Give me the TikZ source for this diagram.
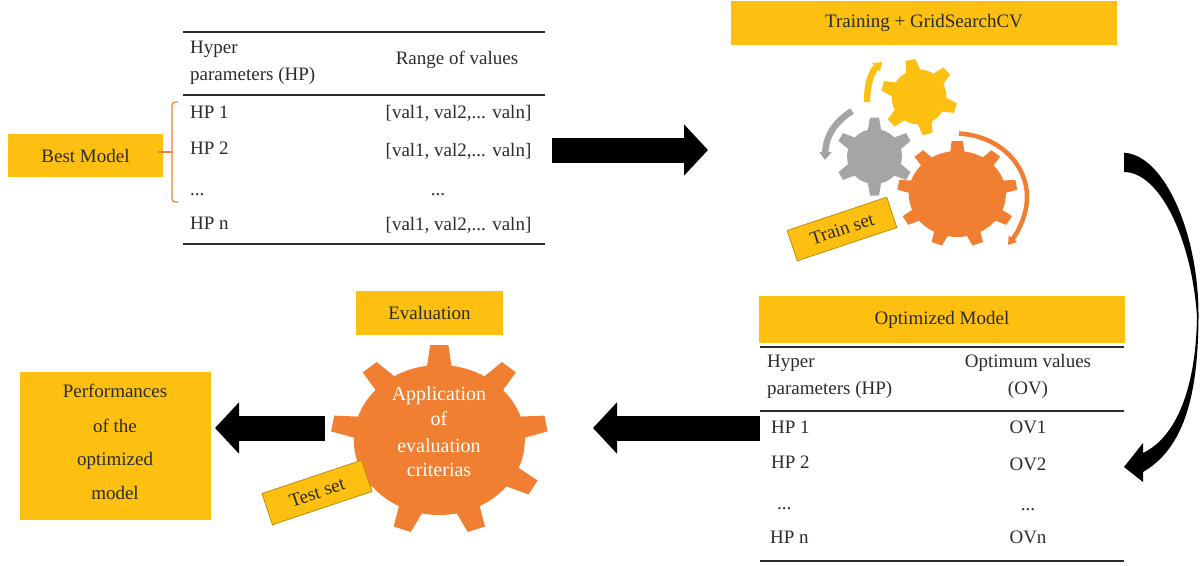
\documentclass[tikz,border=0pt]{standalone}
\usepackage{fontspec}
\setmainfont{Liberation Serif}
\usetikzlibrary{arrows.meta}
\definecolor{goldc}{HTML}{FDC010}
\definecolor{orangec}{HTML}{F07F32}
\definecolor{grayc}{HTML}{A5A5A5}
\definecolor{inkc}{HTML}{2B2B2B}
\tikzset{
  txt/.style={font=\fontsize{19}{22}\selectfont,text=inkc,inner sep=0pt,anchor=mid},
  txtl/.style={txt,anchor=mid west},
  goldbox/.style={fill=goldc,draw=none,inner sep=0pt,txt,anchor=center},
  slip/.style={fill=goldc,draw=goldc!70!black,line width=0.7pt,inner sep=0pt,txt,anchor=center,minimum width=105pt,minimum height=32pt,rotate=18.5},
  rule/.style={draw=inkc,line width=1.3pt},
  whitetxt/.style={font=\fontsize{20}{24}\selectfont,text=white,inner sep=0pt,anchor=mid},
  block/.style={line width=25pt,black,-{Triangle[length=24pt,width=50pt]}},
}
% #1 cx, #2 cy, #3 xscale, #4 body r, #5 tip R, #6 teeth, #7 start angle, #8 base half width, #9 tip half width
\newcommand{\gearshape}[9]{%
  \pgfmathsetmacro{\gstep}{360/#6}%
  \begin{scope}[shift={(#1,#2)},xscale=#3]
    \fill (0,0) circle[radius=#4];
    \foreach \k in {1,...,#6}{
      \pgfmathsetmacro{\ga}{#7+(\k-1)*\gstep}
      \begin{scope}[rotate=\ga]
        \fill (#4-3,#8) -- (#5,#9) -- (#5,-#9) -- (#4-3,-#8) -- cycle;
      \end{scope}
    }
  \end{scope}}
\begin{document}
\begin{tikzpicture}[x=1pt,y=-1pt]
\useasboundingbox (0,0) rectangle (1204,565);
% table 1
\coordinate (t1a) at (183,32); \coordinate (t1b) at (545,32);
\coordinate (t1c) at (183,95); \coordinate (t1d) at (545,95);
\coordinate (t1e) at (183,244); \coordinate (t1f) at (545,244);
\draw[rule] (t1a) -- (t1b);
\draw[rule] (t1c) -- (t1d);
\draw[rule] (t1e) -- (t1f);
\node[txtl] (h1a) at (190,51) {Hyper};
\node[txtl] (h1b) at (190,78) {parameters (HP)};
\node[txt] (r1) at (457,62) {Range of values};
\node[txtl] (hp11) at (190,116) {HP 1};
\node[txtl] (hp12) at (190,152) {HP 2};
\node[txtl] (hp13) at (190,193) {...};
\node[txtl] (hp1n) at (190,227) {HP n};
\node[txt] (v11) at (458.5,116) {[val1, val2,... valn]};
\node[txt] (v12) at (458.5,154) {[val1, val2,... valn]};
\node[txt] (v13) at (438,193) {...};
\node[txt] (v1n) at (458.5,228) {[val1, val2,... valn]};
% best model
\node[goldbox,minimum width=155pt,minimum height=43pt] (best) at (85.5,155.5) {Best Model};
\coordinate (brt) at (178,102); \coordinate (brb) at (178,202); \coordinate (brm) at (172,152); \coordinate (brl) at (158,152);
\draw[orangec,line width=1.2pt,rounded corners=3pt] (brt) -- (172,102) -- (172,202) -- (brb);
\draw[orangec,line width=1.2pt] (brl) -- (brm);
% training
\node[goldbox,minimum width=386pt,minimum height=44pt] (train) at (924,23) {Training + GridSearchCV};
\begin{scope}[goldc] \gearshape{919}{97}{1}{27.5}{38}{6}{-17}{7.5}{5} \end{scope}
\begin{scope}[grayc] \gearshape{874.5}{156.5}{1}{27.5}{39}{6}{90}{7}{4.5} \end{scope}
\begin{scope}[orangec] \gearshape{957.3}{194}{1.13}{43}{53}{9}{90}{6.5}{5} \end{scope}
\coordinate (ya) at (867,102); \coordinate (yb) at (882,62);
\coordinate (ga) at (852,111); \coordinate (gb) at (825,160);
\coordinate (oa) at (959,133.5); \coordinate (ob) at (1008,245);
\draw[goldc,line width=6.5pt,-{Triangle[length=8pt,width=11pt]}] (ya) .. controls (867,85) and (871,72) .. (yb);
\draw[grayc,line width=6.5pt,-{Triangle[length=8pt,width=12pt]}] (ga) .. controls (835,122) and (826,135) .. (gb);
\draw[orangec,line width=4.5pt,-{Triangle[length=8pt,width=10pt]}] (oa) .. controls (1000,136) and (1027,165) .. (1027,197) .. controls (1027,215) and (1018,232) .. (ob);
\node[slip] (trainset) at (842,229) {Train set};
% arrows
\coordinate (a1s) at (552,150); \coordinate (a1e) at (708,150);
\draw[block] (a1s) -- (a1e);
\coordinate (a2s) at (325,428); \coordinate (a2e) at (215,428);
\draw[block] (a2s) -- (a2e);
\coordinate (a3s) at (760,428); \coordinate (a3e) at (593,428);
\draw[block] (a3s) -- (a3e);
\coordinate (c1) at (1124,152.7); \coordinate (c2) at (1124,172);
\coordinate (ctip) at (1124,467);
\fill[black] (c1) .. controls (1165,155) and (1199,235) .. (1198.5,317)
  .. controls (1198,380) and (1190,445) .. (1143,472) -- (1143,482) -- (ctip) -- (1143,443) -- (1143,453)
  .. controls (1180,435) and (1196,380) .. (1197,317)
  .. controls (1192,240) and (1160,172) .. (c2) -- cycle;
% evaluation
\node[goldbox,minimum width=147pt,minimum height=44pt] (eval) at (429.5,313) {Evaluation};
\begin{scope}[orangec] \gearshape{439.3}{440}{1.14}{75}{95}{9}{90}{11}{8} \end{scope}
\node[whitetxt] (ap1) at (439,398) {Application};
\node[whitetxt] (ap2) at (439,423) {of};
\node[whitetxt] (ap3) at (439,450) {evaluation};
\node[whitetxt] (ap4) at (439,474) {criterias};
\node[slip,minimum height=33pt] (testset) at (317,492.5) {Test set};
% performances
\node[goldbox,minimum width=191pt,minimum height=148pt] (perf) at (115.5,446) {};
\node[txt] (p1) at (115,395) {Performances};
\node[txt] (p2) at (115,430) {of the};
\node[txt] (p3) at (115,463) {optimized};
\node[txt] (p4) at (115,497) {model};
% table 2
\node[goldbox,minimum width=366pt,minimum height=47pt] (opt) at (942,319.5) {Optimized Model};
\coordinate (t2a) at (760,347); \coordinate (t2b) at (1124,347);
\coordinate (t2c) at (760,411); \coordinate (t2d) at (1124,411);
\coordinate (t2e) at (760,561); \coordinate (t2f) at (1124,561);
\draw[rule] (t2a) -- (t2b);
\draw[rule] (t2c) -- (t2d);
\draw[rule] (t2e) -- (t2f);
\node[txtl] (h2a) at (767,365) {Hyper};
\node[txtl] (h2b) at (767,392) {parameters (HP)};
\node[txt] (o2a) at (1028,365) {Optimum values};
\node[txt] (o2b) at (1028,392) {(OV)};
\node[txtl] (hp21) at (771,431) {HP 1};
\node[txtl] (hp22) at (771,466) {HP 2};
\node[txtl] (hp23) at (777,507) {...};
\node[txtl] (hp2n) at (770,541) {HP n};
\node[txt] (ov1) at (1028,431) {OV1};
\node[txt] (ov2) at (1028,468) {OV2};
\node[txt] (ov3) at (1028,508) {...};
\node[txt] (ovn) at (1028,541) {OVn};
\end{tikzpicture}
\end{document}
